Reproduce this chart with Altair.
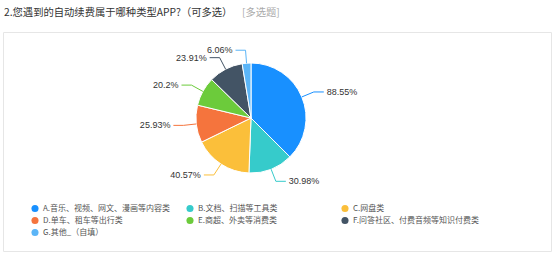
import altair as alt
import pandas as pd

title_text = ["2.您遇到的自动续费属于哪种类型APP?（可多选）"]
tag_text = ["[多选题]"]
categories = [
    "A.音乐、视频、网文、漫画等内容类",
    "B.文档、扫描等工具类",
    "C.网盘类",
    "D.单车、租车等出行类",
    "E.商超、外卖等消费类",
    "F.问答社区、付费音频等知识付费类",
    "G.其他_（自填）",
]
values = [88.55, 30.98, 40.57, 25.93, 20.2, 23.91, 6.06]
colors = ["#1890ff", "#36cbcb", "#fbbf3a", "#f5743d", "#6ccb3b", "#435465", "#5bb5f7"]

df = pd.DataFrame({"cat": categories, "v": values, "idx": list(range(len(values)))})

CX, CY, R, R2, H = 251, 118, 55, 68, 10
FONT_CJK = "Noto Sans CJK SC"

color_scale = alt.Scale(domain=categories, range=colors)

base = alt.Chart(df)

pie = base.mark_arc(outerRadius=R, stroke="white", strokeWidth=1).encode(
    theta=alt.Theta("v:Q", stack=True),
    order=alt.Order("idx:Q"),
    color=alt.Color(
        "cat:N",
        scale=color_scale,
        legend=alt.Legend(
            title=None,
            orient="none",
            direction="horizontal",
            legendX=31,
            legendY=204.5,
            columns=3,
            symbolType="circle",
            symbolSize=50,
            symbolStrokeWidth=0,
            labelFontSize=8,
            labelFont=FONT_CJK,
            labelColor="#555555",
            gridAlign="all",
            columnPadding=15,
            rowPadding=4,
            labelOffset=4,
            padding=0,
            labelLimit=300,
        ),
    ),
    x=alt.value(CX),
    y=alt.value(CY),
)

geo = (
    base.transform_joinaggregate(total="sum(v)")
    .transform_window(cum="sum(v)", sort=[alt.SortField("idx")], frame=[None, 0])
    .transform_calculate(a="(datum.cum - datum.v/2)/datum.total*2*PI")
    .transform_calculate(
        x1=f"{CX}+{R}*sin(datum.a)",
        y1=f"{CY}-{R}*cos(datum.a)",
        x2=f"{CX}+{R2}*sin(datum.a)",
        y2=f"{CY}-{R2}*cos(datum.a)",
        side="sin(datum.a) >= 0 ? 1 : -1",
        label="toString(datum.v) + '%'",
    )
    .transform_calculate(x3=f"datum.x2 + datum.side*{H}")
)

nocolor = alt.Color("cat:N", scale=color_scale, legend=None)

seg1 = geo.mark_rule(strokeWidth=1).encode(
    x=alt.X("x1:Q", scale=None, axis=None),
    y=alt.Y("y1:Q", scale=None, axis=None),
    x2="x2:Q",
    y2="y2:Q",
    color=nocolor,
)
seg2 = geo.mark_rule(strokeWidth=1).encode(
    x=alt.X("x2:Q", scale=None, axis=None),
    y=alt.Y("y2:Q", scale=None, axis=None),
    x2="x3:Q",
    color=nocolor,
)

lbl_style = dict(baseline="middle", fontSize=9, font="Liberation Sans", color="#333333")
right_lbl = geo.transform_filter("datum.side > 0").mark_text(align="left", dx=3, **lbl_style).encode(
    x=alt.X("x3:Q", scale=None, axis=None),
    y=alt.Y("y2:Q", scale=None, axis=None),
    text="label:N",
)
left_lbl = geo.transform_filter("datum.side < 0").mark_text(align="right", dx=-3, **lbl_style).encode(
    x=alt.X("x3:Q", scale=None, axis=None),
    y=alt.Y("y2:Q", scale=None, axis=None),
    text="label:N",
)

title = alt.Chart(pd.DataFrame({"t": title_text})).mark_text(
    align="left", baseline="middle", fontSize=10.3, font=FONT_CJK, color="#333333"
).encode(x=alt.value(4), y=alt.value(12.5), text="t:N")

tag = alt.Chart(pd.DataFrame({"t": tag_text})).mark_text(
    align="left", baseline="middle", fontSize=10.3, font=FONT_CJK, color="#aaaaaa"
).encode(x=alt.value(242), y=alt.value(12.5), text="t:N")

box = alt.Chart(pd.DataFrame({"t": [0]})).mark_rect(
    fill="white", stroke="#e6e6e6", strokeWidth=1
).encode(x=alt.value(3.5), x2=alt.value(551.5), y=alt.value(32.5), y2=alt.value(251.5))

chart = (
    alt.layer(box, pie, seg1, seg2, right_lbl, left_lbl, title, tag)
    .properties(width=554, height=255, padding=0, autosize="none", background="white")
    .configure_view(stroke=None)
)

chart.save("out.html", embed_options={"renderer": "svg", "actions": False})
